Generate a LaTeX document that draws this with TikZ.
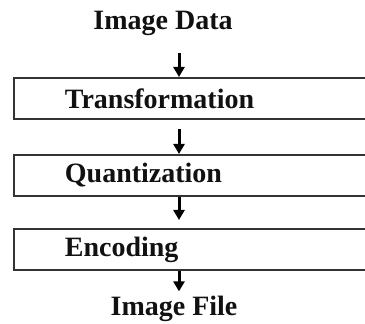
\documentclass[tikz,border=0pt]{standalone}
\usepackage{fontspec}
\setmainfont{Liberation Serif}
\usetikzlibrary{arrows.meta}
\definecolor{ink}{HTML}{111111}
\definecolor{frame}{HTML}{333333}
\tikzset{
  stage/.style={draw=frame, line width=1.8pt, anchor=north west, align=left,
                minimum height=41pt, text width=300pt, inner xsep=51pt, inner ysep=0pt,
                font=\fontsize{28}{30}\selectfont\bfseries, text=ink},
  lbl/.style={anchor=base, inner sep=0pt, font=\fontsize{28}{30}\selectfont\bfseries, text=ink},
  arr/.style={-{Triangle[width=11pt, length=10pt]}, line width=3pt, draw=black},
}
\begin{document}
\begin{tikzpicture}
    \useasboundingbox (0,0) rectangle (365pt,324pt);
    \clip (0,0) rectangle (365pt,324pt);
    % input / output
    \node[lbl] (data) at (163pt,294pt) {Image Data};
    \node[lbl] (file) at (174pt,8pt)   {Image File};
    % stages
    \node[stage] (trans) at (13pt,247pt) {Transformation};
    \node[stage] (quant) at (13pt,170pt) {Quantization};
    \node[stage] (enc)   at (13pt,96pt)  {Encoding};
    % arrows run down at x = 179pt
    \coordinate (ax) at (179pt,0pt);

    \draw[arr, shorten <=17pt] (data.south -| ax) -- (trans.north -| ax);
    \draw[arr, shorten <=9pt]  (trans.south -| ax) -- (quant.north -| ax);
    \draw[arr, shorten >=8pt]  (quant.south -| ax) -- (enc.north -| ax);
    \draw[arr, shorten >=5pt]  (enc.south -| ax) -- (file.north -| ax);
\end{tikzpicture}
\end{document}
